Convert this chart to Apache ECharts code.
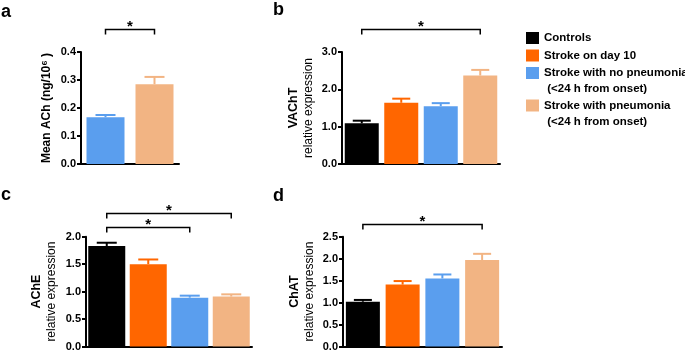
<!DOCTYPE html>
<html><head><meta charset="utf-8">
<script src="https://cdn.jsdelivr.net/npm/echarts@6/dist/echarts.min.js"></script>
<style>html,body{margin:0;padding:0;background:#fff}#c{width:685px;height:352px}</style>
</head><body><div id="c"></div>
<script>
// ---- data ----
const groups = ['Controls', 'Stroke on day 10', 'Stroke with no pneumonia', 'Stroke with pneumonia'];
const legendLines = [['Controls'], ['Stroke on day 10'], ['Stroke with no pneumonia', ' (<24 h from onset)'], ['Stroke with pneumonia', ' (<24 h from onset)']];
const groupColors = ['#000000', '#FF6600', '#5A9EEE', '#F2B483'];

// panel a: Mean ACh
const aGroups = [2, 3];
const aMean = [0.167, 0.285];
const aSem = [0.008, 0.026];
const aSig = [[0, 1, 0.482]];

// panel b: VAChT
const bGroups = [0, 1, 2, 3];
const bMean = [1.09, 1.64, 1.55, 2.37];
const bSem = [0.07, 0.11, 0.08, 0.15];
const bSig = [[0, 3, 3.62]];

// panel c: AChE
const cGroups = [0, 1, 2, 3];
const cMean = [1.83, 1.50, 0.89, 0.91];
const cSem = [0.06, 0.085, 0.036, 0.04];
const cSig = [[0, 2, 2.18], [0, 3, 2.44]];

// panel d: ChAT
const dGroups = [0, 1, 2, 3];
const dMean = [1.02, 1.41, 1.55, 1.97];
const dSem = [0.04, 0.08, 0.09, 0.14];
const dSig = [[0, 3, 2.78]];

const panelLetters = ['a', 'b', 'c', 'd'];
const yMaxes = [0.4, 3.0, 2.0, 2.5];
const ySteps = [0.1, 1.0, 0.5, 0.5];
const yNames = ['Mean ACh (ng/10\u2076 )', '{t|VAChT}\n{r|relative expression}', '{t|AChE}\n{r|relative expression}', '{t|ChAT}\n{r|relative expression}'];

// ---- layout / style ----
const FONT = '"Liberation Sans", Arial, sans-serif';
const grids = [
  { left: 81, top: 52, width: 98, height: 112 },
  { left: 342, top: 52, width: 158, height: 112 },
  { left: 86, top: 236.7, width: 166, height: 111 },
  { left: 343, top: 236.7, width: 159, height: 111 }
];
const barWidths = [38, 34, 37, 34];
const capWidths = [20, 18, 20, 18];
const nameGaps = [27, 26, 27, 26];
const letterPos = [[1, 3], [273, 1], [1, 186], [273, 187]];

const panels = [
  { groups: aGroups, mean: aMean, sem: aSem, sig: aSig },
  { groups: bGroups, mean: bMean, sem: bSem, sig: bSig },
  { groups: cGroups, mean: cMean, sem: cSem, sig: cSig },
  { groups: dGroups, mean: dMean, sem: dSem, sig: dSig }
];

function errRender(capW) {
  return function (params, api) {
    const i = api.value(0), m = api.value(1), s = api.value(2);
    const p0 = api.coord([i, m]), p1 = api.coord([i, m + s]);
    const color = api.visual('color');
    return {
      type: 'group', children: [
        { type: 'line', shape: { x1: p0[0], y1: p0[1], x2: p1[0], y2: p1[1] }, style: { stroke: color, lineWidth: 2 } },
        { type: 'line', shape: { x1: p1[0] - capW / 2, y1: p1[1], x2: p1[0] + capW / 2, y2: p1[1] }, style: { stroke: color, lineWidth: 2 } }
      ]
    };
  };
}

function sigRender(params, api) {
  const a = api.coord([api.value(0), api.value(2)]);
  const b = api.coord([api.value(1), api.value(2)]);
  const y = Math.round(a[1]) + 0.5;
  return {
    type: 'group', children: [
      { type: 'polyline', shape: { points: [[a[0], y + 5], [a[0], y], [b[0], y], [b[0], y + 5]] }, style: { stroke: '#000', lineWidth: 1.5, fill: null } },
      { type: 'text', style: { text: '*', x: (a[0] + b[0]) / 2, y: y - 2.5, align: 'center', verticalAlign: 'middle', font: 'bold 15px ' + FONT, fill: '#000' } }
    ]
  };
}

const xAxes = [], yAxes = [], series = [];
panels.forEach((p, k) => {
  xAxes.push({
    type: 'category', gridIndex: k, data: p.groups.map(g => groups[g]),
    axisLine: { lineStyle: { color: '#000', width: 2 } }, axisTick: { show: false }, axisLabel: { show: false }
  });
  yAxes.push({
    type: 'value', gridIndex: k, min: 0, max: yMaxes[k], interval: ySteps[k],
    splitLine: { show: false },
    axisLine: { show: true, lineStyle: { color: '#000', width: 2 } },
    axisTick: { show: true, length: 4, lineStyle: { color: '#000', width: 2 } },
    axisLabel: { margin: 5, color: '#000', fontWeight: 'bold', fontSize: 11, fontFamily: FONT, formatter: v => v.toFixed(1) },
    name: yNames[k], nameLocation: 'middle', nameGap: nameGaps[k],
    nameTextStyle: {
      color: '#000', fontWeight: 'bold', fontSize: 12, fontFamily: FONT, lineHeight: 15,
      rich: {
        t: { fontWeight: 'bold', fontSize: 12.5, fontFamily: FONT, color: '#000', lineHeight: 15 },
        r: { fontWeight: 'normal', fontSize: 12, fontFamily: FONT, color: '#000', lineHeight: 15 }
      }
    }
  });
  series.push({
    type: 'bar', xAxisIndex: k, yAxisIndex: k, barWidth: barWidths[k], z: 2,
    data: p.mean.map((v, i) => ({ value: v, itemStyle: { color: groupColors[p.groups[i]] } }))
  });
  series.push({
    type: 'custom', xAxisIndex: k, yAxisIndex: k, z: 1, clip: false,
    renderItem: errRender(capWidths[k]),
    encode: { x: 0, y: [1, 2] },
    data: p.mean.map((v, i) => ({ value: [i, v, p.sem[i]], itemStyle: { color: groupColors[p.groups[i]] } }))
  });
  series.push({
    type: 'custom', xAxisIndex: k, yAxisIndex: k, z: 3, clip: false,
    renderItem: sigRender, encode: { x: [0, 1], y: 2 },
    data: p.sig
  });
});

const graphics = [];
panelLetters.forEach((l, k) => {
  graphics.push({ type: 'text', left: letterPos[k][0], top: letterPos[k][1], style: { text: l, font: 'bold 18px ' + FONT, fill: '#000' } });
});
// legend
let ly = 32;
legendLines.forEach((lines, k) => {
  graphics.push({ type: 'rect', shape: { x: 526, y: ly, width: 13, height: 12 }, style: { fill: groupColors[k] } });
  lines.forEach((t, j) => {
    graphics.push({ type: 'text', x: 544, y: ly + 6 + j * 16, style: { text: t, font: 'bold 11.5px ' + FONT, fill: '#000', verticalAlign: 'middle' } });
  });
  ly += lines.length === 1 ? 17.5 : 32.5;
});

const chart = echarts.init(document.getElementById('c'), null, { renderer: 'canvas' });
chart.setOption({
  animation: false,
  backgroundColor: '#fff',
  grid: grids,
  xAxis: xAxes,
  yAxis: yAxes,
  series: series,
  graphic: graphics
});
</script></body></html>
